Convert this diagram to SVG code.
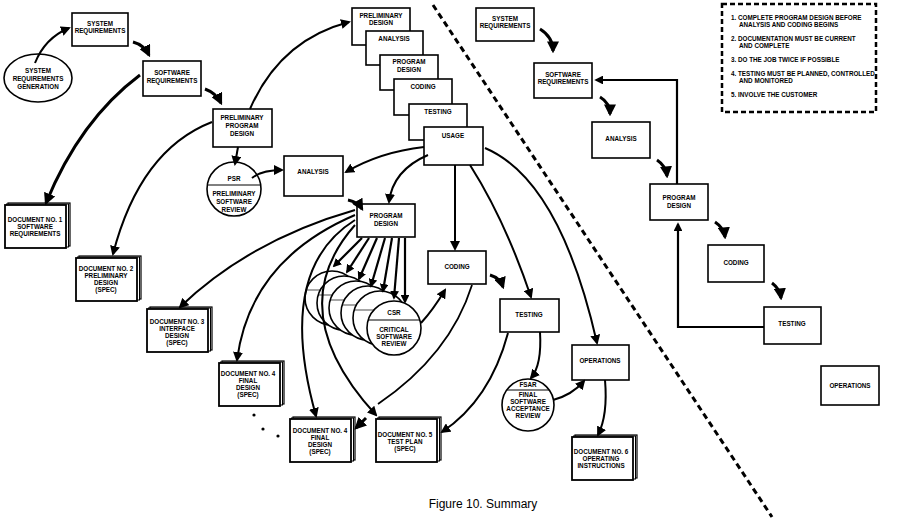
<svg xmlns="http://www.w3.org/2000/svg" width="897" height="519" viewBox="0 0 897 519">
<defs>
<marker id="ah" viewBox="0 0 10 10" refX="8" refY="5" markerWidth="4" markerHeight="4" orient="auto" markerUnits="strokeWidth"><path d="M0,0 L10,5 L0,10 z" fill="#000"/></marker>
<marker id="ahs" viewBox="0 0 10 10" refX="8" refY="5" markerWidth="5" markerHeight="5" orient="auto" markerUnits="strokeWidth"><path d="M0,0 L10,5 L0,10 z" fill="#000"/></marker>
<g id="doc"><rect x="3" y="-2" width="62" height="43" fill="#fff" stroke="#000" stroke-width="1.2"/><rect x="1.5" y="-1" width="62" height="43" fill="#fff" stroke="#000" stroke-width="1"/><rect x="0" y="0" width="61" height="43" fill="#fff" stroke="#000" stroke-width="1.8"/></g>
</defs>
<style>
.b{fill:#fff;stroke:#000;stroke-width:1.6}
.t{font-family:"Liberation Sans",Arial,sans-serif;font-weight:bold;font-size:6.3px;text-anchor:middle;fill:#000}
.n{font-family:"Liberation Sans",Arial,sans-serif;font-weight:bold;font-size:6.3px;fill:#000}
.c{fill:none;stroke:#000;stroke-width:3;marker-end:url(#ah)}
.k{fill:none;stroke:#000;stroke-width:2;marker-end:url(#ahs)}
.m{fill:none;stroke:#000;stroke-width:2.2;marker-end:url(#ah)}
</style>
<rect width="897" height="519" fill="#fff"/>
<line x1="433" y1="5" x2="772" y2="517" stroke="#000" stroke-width="3" stroke-dasharray="6,4"/>

<g id="srg"><ellipse cx="38" cy="78" rx="34" ry="24" class="b"/><text class="t" x="38" y="73">SYSTEM</text><text class="t" x="38" y="81">REQUIREMENTS</text><text class="t" x="38" y="89">GENERATION</text></g>
<g id="sysreq"><rect x="72" y="13" width="56" height="33" class="b"/><text class="t" x="100" y="26">SYSTEM</text><text class="t" x="100" y="33">REQUIREMENTS</text></g>
<g id="swreq"><rect x="143" y="61" width="58" height="35" class="b"/><text class="t" x="172" y="75">SOFTWARE</text><text class="t" x="172" y="83">REQUIREMENTS</text></g>
<g id="ppd"><rect x="213" y="109" width="59" height="38" class="b"/><text class="t" x="242" y="120">PRELIMINARY</text><text class="t" x="242" y="128">PROGRAM</text><text class="t" x="242" y="136">DESIGN</text></g>
<g id="psr"><circle cx="234" cy="189" r="27" class="b"/><line x1="208" y1="185" x2="260" y2="185" stroke="#000"/><text class="t" x="234" y="181">PSR</text><text class="t" x="234" y="196">PRELIMINARY</text><text class="t" x="234" y="204">SOFTWARE</text><text class="t" x="234" y="212">REVIEW</text></g>
<g id="analysis1"><rect x="284" y="156" width="59" height="40" class="b"/><text class="t" x="313" y="174">ANALYSIS</text></g>
<g id="pd1"><rect x="357" y="204" width="58" height="33" class="b"/><text class="t" x="386" y="218">PROGRAM</text><text class="t" x="386" y="226">DESIGN</text></g>

<g id="stack">
<rect x="352" y="8" width="58" height="37" class="b"/><text class="t" x="381" y="18">PRELIMINARY</text><text class="t" x="381" y="25">DESIGN</text>
<rect x="366" y="31" width="57" height="34" class="b"/><text class="t" x="394" y="41">ANALYSIS</text>
<rect x="380" y="55" width="58" height="35" class="b"/><text class="t" x="409" y="64">PROGRAM</text><text class="t" x="409" y="72">DESIGN</text>
<rect x="394" y="79" width="58" height="36" class="b"/><text class="t" x="423" y="89">CODING</text>
<rect x="409" y="104" width="58" height="36" class="b"/><text class="t" x="438" y="114">TESTING</text>
<rect x="424" y="127" width="59" height="38" class="b"/><text class="t" x="453" y="138">USAGE</text>
</g>

<g id="coding1"><rect x="428" y="251" width="58" height="33" class="b"/><text class="t" x="457" y="269">CODING</text></g>
<g id="testing1"><rect x="500" y="299" width="59" height="33" class="b"/><text class="t" x="529" y="317">TESTING</text></g>
<g id="ops1"><rect x="572" y="345" width="57" height="35" class="b"/><text class="t" x="600" y="363">OPERATIONS</text></g>
<g id="fsar"><circle cx="528" cy="405" r="26" class="b"/><line x1="507" y1="390" x2="549" y2="390" stroke="#000"/><text class="t" x="528" y="387">FSAR</text><text class="t" x="528" y="397">FINAL</text><text class="t" x="528" y="404">SOFTWARE</text><text class="t" x="528" y="411">ACCEPTANCE</text><text class="t" x="528" y="418">REVIEW</text></g>

<g id="csr">
<circle cx="332" cy="298" r="27" class="b"/><line x1="306" y1="290" x2="358" y2="290" stroke="#000" stroke-width="0.7"/>
<circle cx="344" cy="303" r="27" class="b"/><line x1="318" y1="295" x2="370" y2="295" stroke="#000" stroke-width="0.7"/>
<circle cx="356" cy="308" r="27" class="b"/><line x1="330" y1="300" x2="382" y2="300" stroke="#000" stroke-width="0.7"/>
<circle cx="368" cy="313" r="27" class="b"/><line x1="342" y1="305" x2="394" y2="305" stroke="#000" stroke-width="0.7"/>
<circle cx="380" cy="318" r="27" class="b"/><line x1="354" y1="310" x2="406" y2="310" stroke="#000" stroke-width="0.7"/>
<circle cx="394" cy="328" r="27" class="b"/><line x1="368" y1="320" x2="420" y2="320" stroke="#000"/>
<text class="t" x="394" y="315">CSR</text><text class="t" x="394" y="332">CRITICAL</text><text class="t" x="394" y="339">SOFTWARE</text><text class="t" x="394" y="346">REVIEW</text>
</g>

<g id="doc1"><use href="#doc" x="5" y="205"/><text class="t" x="35" y="222">DOCUMENT NO. 1</text><text class="t" x="35" y="229">SOFTWARE</text><text class="t" x="35" y="236">REQUIREMENTS</text></g>
<g id="doc2"><use href="#doc" x="76" y="258"/><text class="t" x="106" y="271">DOCUMENT NO. 2</text><text class="t" x="106" y="278">PRELIMINARY</text><text class="t" x="106" y="285">DESIGN</text><text class="t" x="106" y="292">(SPEC)</text></g>
<g id="doc3"><use href="#doc" x="147" y="309"/><text class="t" x="177" y="324">DOCUMENT NO. 3</text><text class="t" x="177" y="331">INTERFACE</text><text class="t" x="177" y="338">DESIGN</text><text class="t" x="177" y="345">(SPEC)</text></g>
<g id="doc4a"><use href="#doc" x="219" y="363"/><text class="t" x="248" y="376">DOCUMENT NO. 4</text><text class="t" x="248" y="383">FINAL</text><text class="t" x="248" y="390">DESIGN</text><text class="t" x="248" y="397">(SPEC)</text></g>
<g id="doc4b"><use href="#doc" x="290" y="419"/><text class="t" x="320" y="433">DOCUMENT NO. 4</text><text class="t" x="320" y="440">FINAL</text><text class="t" x="320" y="447">DESIGN</text><text class="t" x="320" y="454">(SPEC)</text></g>
<g id="doc5"><use href="#doc" x="376" y="419"/><text class="t" x="405" y="437">DOCUMENT NO. 5</text><text class="t" x="405" y="444">TEST PLAN</text><text class="t" x="405" y="451">(SPEC)</text></g>
<g id="doc6"><use href="#doc" x="572" y="437"/><text class="t" x="601" y="454">DOCUMENT NO. 6</text><text class="t" x="601" y="461">OPERATING</text><text class="t" x="601" y="468">INSTRUCTIONS</text></g>
<g id="dots" fill="#000"><circle cx="254" cy="415" r="1.6"/><circle cx="263" cy="429" r="1.6"/><circle cx="278" cy="436" r="1.6"/></g>

<g id="right">
<rect x="476" y="8" width="58" height="33" class="b"/><text class="t" x="505" y="21">SYSTEM</text><text class="t" x="505" y="28">REQUIREMENTS</text>
<rect x="534" y="63" width="58" height="35" class="b"/><text class="t" x="563" y="77">SOFTWARE</text><text class="t" x="563" y="84">REQUIREMENTS</text>
<rect x="592" y="122" width="58" height="36" class="b"/><text class="t" x="621" y="141">ANALYSIS</text>
<rect x="650" y="184" width="58" height="36" class="b"/><text class="t" x="679" y="200">PROGRAM</text><text class="t" x="679" y="208">DESIGN</text>
<rect x="708" y="245" width="56" height="37" class="b"/><text class="t" x="736" y="265">CODING</text>
<rect x="764" y="307" width="57" height="37" class="b"/><text class="t" x="792" y="326">TESTING</text>
<rect x="821" y="366" width="58" height="39" class="b"/><text class="t" x="850" y="388">OPERATIONS</text>
</g>
<g id="notes">
<rect x="722" y="4" width="154" height="108" fill="#fff" stroke="#000" stroke-width="2.5" stroke-dasharray="5,3"/>
<text class="n" x="731" y="20">1.  COMPLETE PROGRAM DESIGN BEFORE</text><text class="n" x="739" y="27">ANALYSIS AND CODING BEGINS</text>
<text class="n" x="731" y="41">2.  DOCUMENTATION MUST BE CURRENT</text><text class="n" x="739" y="48">AND COMPLETE</text>
<text class="n" x="731" y="62">3.  DO THE JOB TWICE IF POSSIBLE</text>
<text class="n" x="731" y="76">4.  TESTING MUST BE PLANNED, CONTROLLED</text><text class="n" x="739" y="83">AND MONITORED</text>
<text class="n" x="731" y="97">5.  INVOLVE THE CUSTOMER</text>
</g>

<g id="connectors">
<path class="k" d="M35,63 Q45,38 69,28"/>
<path class="c" d="M133,42 Q144,45 149,55"/>
<path class="c" d="M205,89 Q216,93 221,103"/>
<path class="c" d="M140,75 Q80,120 46,203"/>
<path class="k" d="M212,122 Q140,150 113,254"/>
<path class="k" d="M250,109 Q280,40 349,22"/>
<path class="k" d="M238,147 L235,164"/>
<path class="k" d="M252,178 Q262,170 282,170"/>
<path class="c" d="M348,200 Q358,202 362,209"/>
<path class="k" d="M424,147 Q380,152 346,172"/>
<path class="k" d="M428,155 Q393,170 389,202"/>
<path class="k" d="M455,165 L455,249"/>
<path class="k" d="M470,165 Q505,220 531,297"/>
<path class="k" d="M485,148 Q560,180 597,343"/>
<path class="c" d="M490,275 Q500,278 503,287"/>
<path class="k" d="M540,332 Q542,365 531,378"/>
<path class="k" d="M553,400 Q572,395 584,381"/>
<path class="k" d="M605,380 Q608,415 598,435"/>
<path class="k" d="M508,333 Q490,400 442,432"/>
<path d="M472,285 Q450,355 378,404" fill="none" stroke="#000" stroke-width="1.8"/>
<path class="k" d="M421,323 Q433,310 445,290"/>
<path class="k" d="M355,210 Q250,240 180,307"/>
<path class="k" d="M355,215 Q250,260 237,360"/>
<path class="k" d="M355,220 Q275,270 316,416"/>
<path class="k" d="M355,225 Q280,310 376,415"/>
<path class="c" d="M366,418 L356,428"/>
<path class="m" d="M362,238 L334,266"/>
<path class="m" d="M369,238 L347,272"/>
<path class="m" d="M377,238 L359,279"/>
<path class="m" d="M385,238 L371,286"/>
<path class="m" d="M392,238 L383,291"/>
<path class="m" d="M399,238 L394,298"/>
<path class="m" d="M405,238 L405,302"/>
<path class="c" d="M540,29 Q553,37 553,51"/>
<path class="c" d="M600,97 Q610,103 610,114"/>
<path class="c" d="M657,160 Q666,166 667,176"/>
<path class="c" d="M715,222 Q724,228 725,237"/>
<path class="c" d="M772,283 Q780,289 781,298"/>
<path class="m" d="M677,184 L677,80 L596,80"/>
<path class="m" d="M764,327 L678,327 L678,224"/>
</g>
<text x="483" y="508" font-family="'Liberation Sans',Arial,sans-serif" font-size="12" text-anchor="middle">Figure 10.  Summary</text>
</svg>
